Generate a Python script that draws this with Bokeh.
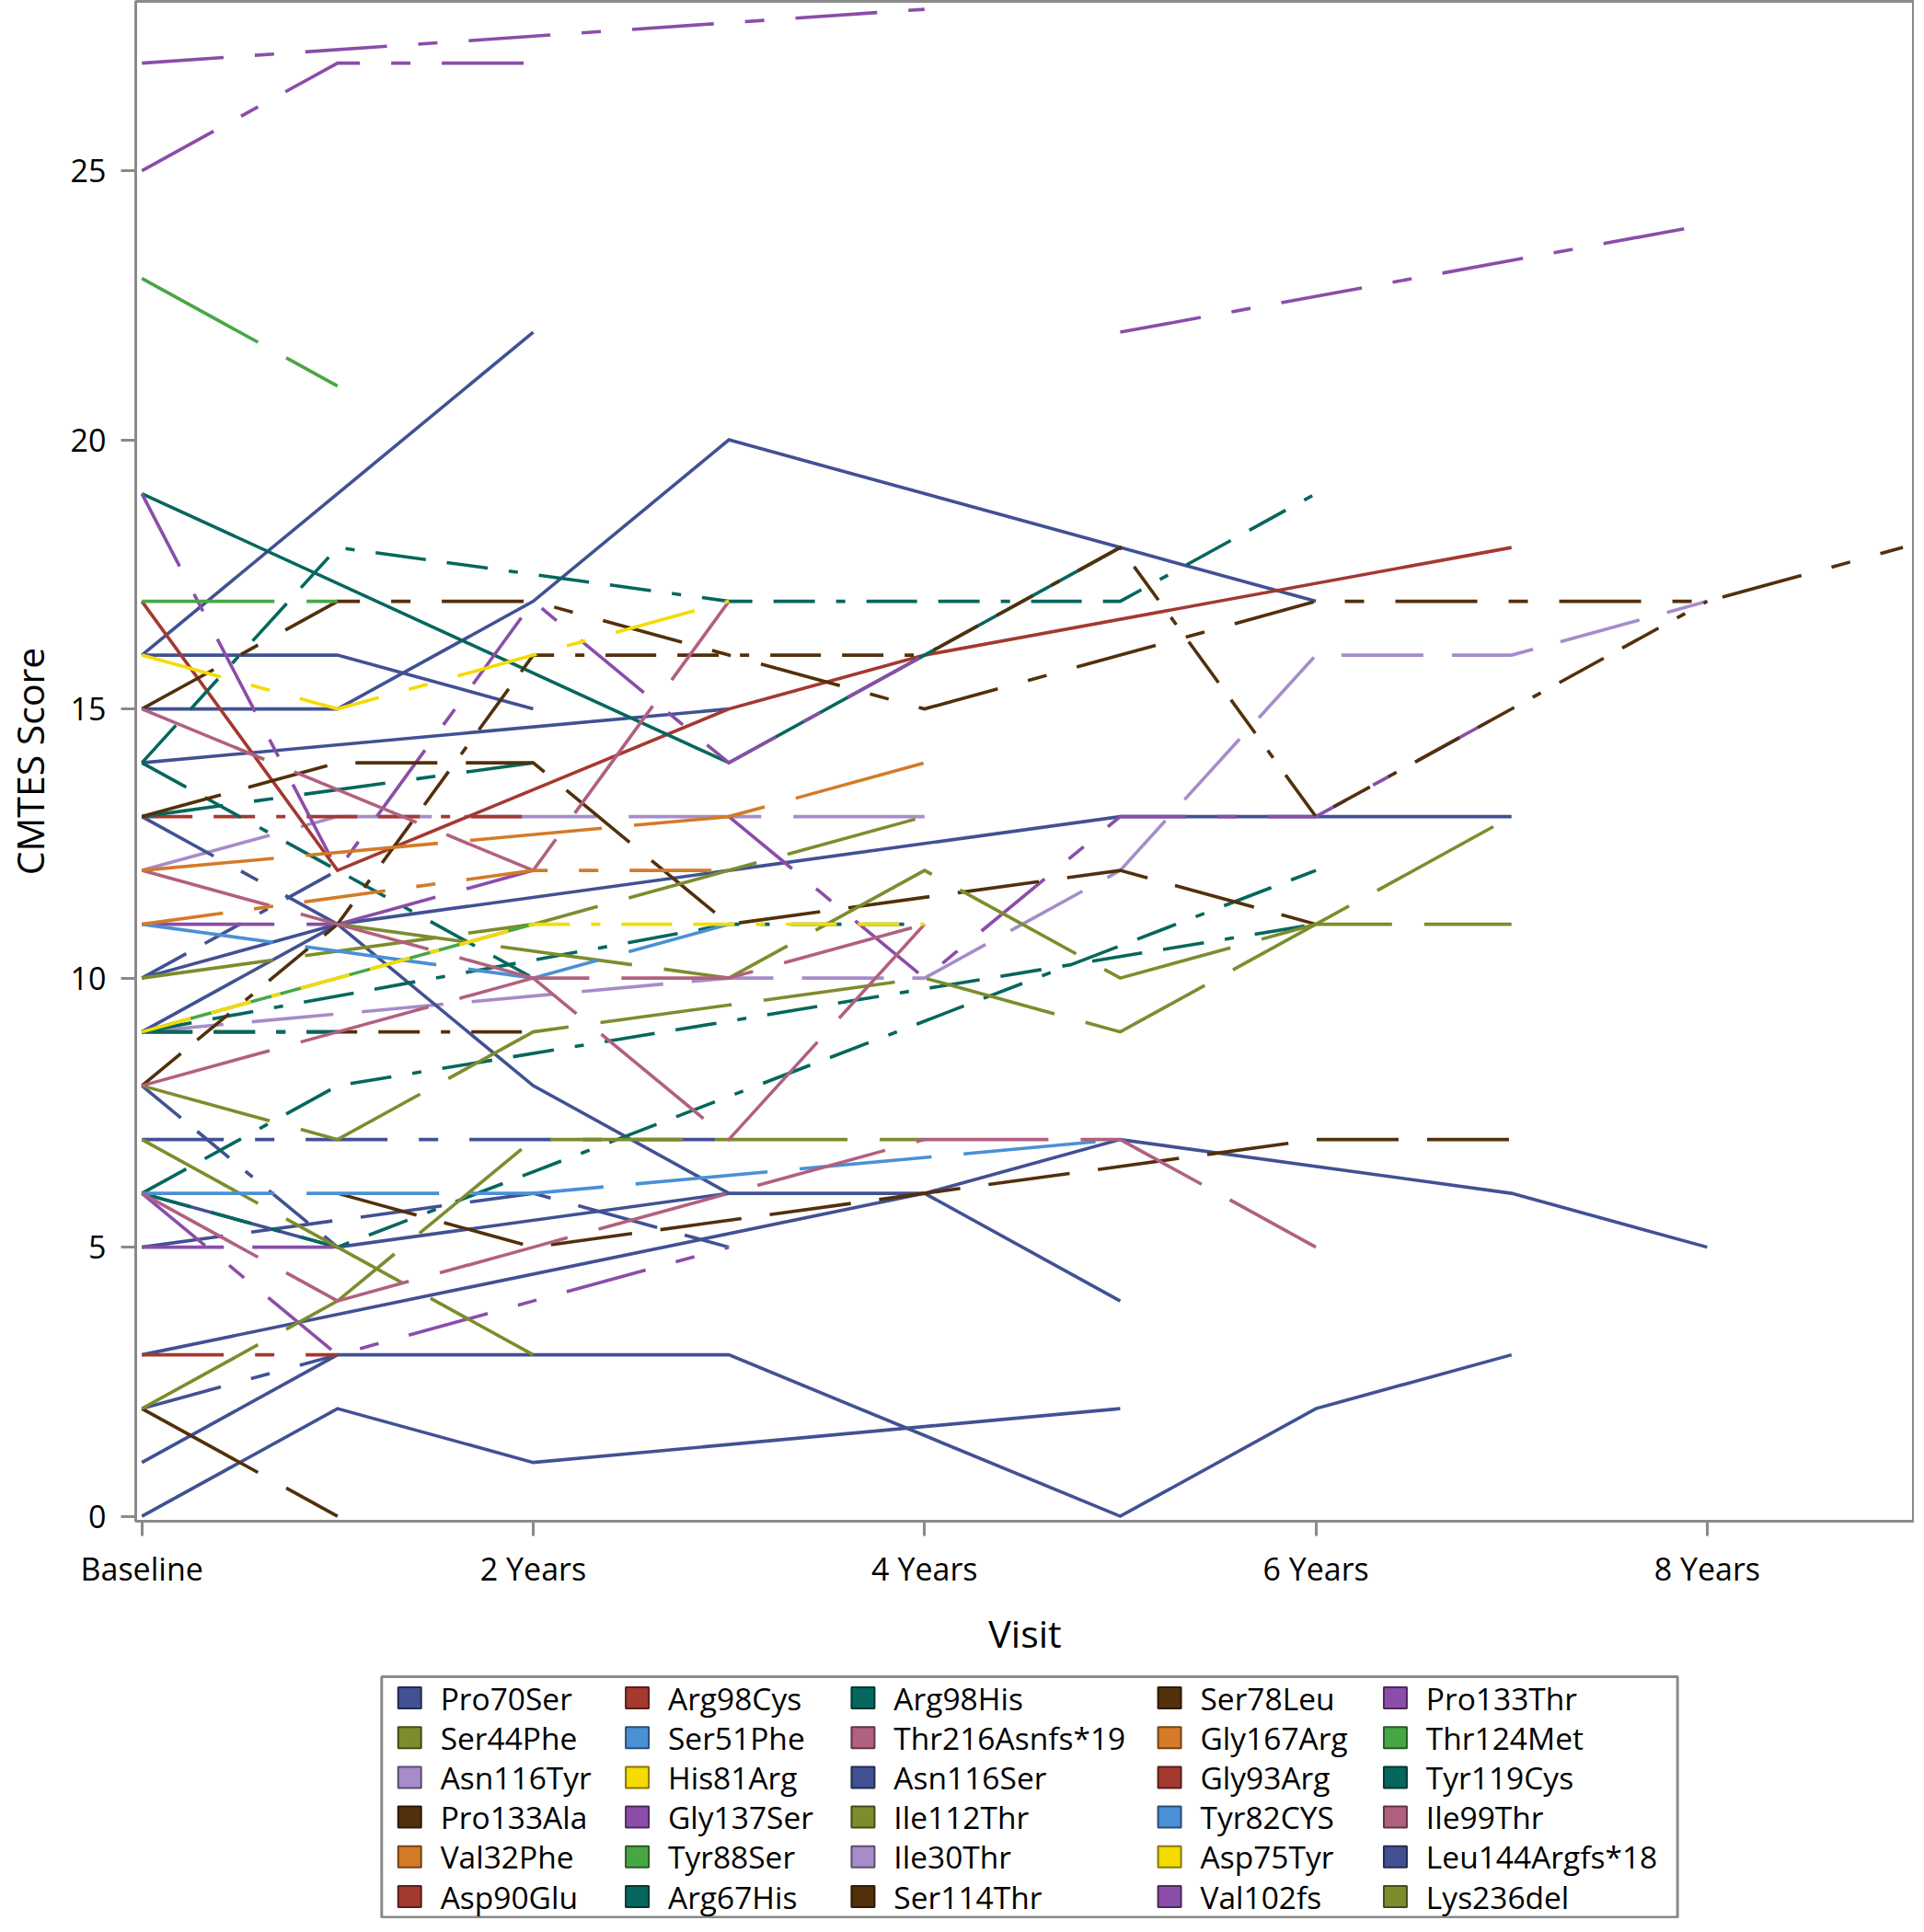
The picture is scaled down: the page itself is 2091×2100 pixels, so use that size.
from bokeh.plotting import figure
from bokeh.models import Range1d, FixedTicker, ColumnDataSource
from bokeh.layouts import column
from bokeh.core.properties import value
from bokeh.embed import file_html
from bokeh.resources import INLINE

N = None

# ---------------- data ----------------
variants = ["Pro70Ser", "Arg98Cys", "Arg98His", "Ser78Leu", "Pro133Thr",
            "Ser44Phe", "Ser51Phe", "Thr216Asnfs*19", "Gly167Arg", "Thr124Met",
            "Asn116Tyr", "His81Arg", "Asn116Ser", "Gly93Arg", "Tyr119Cys",
            "Pro133Ala", "Gly137Ser", "Ile112Thr", "Tyr82CYS", "Ile99Thr",
            "Val32Phe", "Tyr88Ser", "Ile30Thr", "Asp75Tyr", "Leu144Argfs*18",
            "Asp90Glu", "Arg67His", "Ser114Thr", "Val102fs", "Lys236del"]

visit_years = [0, 1, 2, 3, 4, 5, 6, 7, 8, 9]
x_tick_years = [0, 2, 4, 6, 8]
x_tick_labels = ["Baseline", "2 Years", "4 Years", "6 Years", "8 Years"]
y_ticks = [0, 5, 10, 15, 20, 25]

# one entry per patient (in drawing order): variant, line pattern,
# CMTES score per visit year (None = no visit at that year)
pt_variant = [
    # lavender
    "Asn116Tyr", "Ile30Thr",
    # blue
    "Pro70Ser", "Pro70Ser", "Pro70Ser", "Pro70Ser", "Pro70Ser", "Pro70Ser", "Pro70Ser",
    "Asn116Ser", "Pro70Ser", "Leu144Argfs*18", "Leu144Argfs*18", "Pro70Ser", "Pro70Ser",
    "Leu144Argfs*18", "Leu144Argfs*18", "Asn116Ser",
    # red
    "Arg98Cys", "Asp90Glu", "Gly93Arg",
    # teal
    "Arg98His", "Tyr119Cys", "Tyr119Cys", "Arg67His", "Tyr119Cys", "Tyr119Cys", "Tyr119Cys",
    # purple
    "Val102fs", "Val102fs", "Val102fs", "Val102fs", "Gly137Ser", "Val102fs", "Pro133Thr", "Val102fs",
    # brown
    "Ser114Thr", "Ser114Thr", "Pro133Ala", "Ser78Leu", "Ser78Leu", "Pro133Ala",
    # teal (drawn over the brown one at 9)
    "Tyr119Cys",
    # olive
    "Ile112Thr", "Lys236del", "Ser44Phe", "Ile112Thr", "Lys236del",
    # light blue
    "Tyr82CYS", "Ser51Phe",
    # pink
    "Thr216Asnfs*19", "Ile99Thr", "Ile99Thr", "Thr216Asnfs*19",
    # orange
    "Gly167Arg", "Val32Phe",
    # green
    "Thr124Met", "Tyr88Ser", "Thr124Met",
    # yellow
    "His81Arg", "Asp75Tyr",
]

pt_pattern = [
    "LD", "MD",
    "S", "S", "S", "S", "S", "S", "S", "MD", "S", "LS", "DDD", "S", "S", "DDD", "LS", "LS",
    "S", "DDD", "LS",
    "S", "DDD", "DDD", "LS", "DDD", "DDD", "DDD",
    "LS", "LS", "LS", "LS", "LD", "LS", "MD", "LS",
    "DDD", "LS", "MD", "DDD", "LD", "MD",
    "DDD",
    "LD", "LD", "LD", "LD", "LD",
    "LD", "LD",
    "LD", "LD", "LD", "LD",
    "LD", "LS",
    "LD", "LD", "S",
    "LS", "DDD",
]

pt_scores = [
    # lavender
    [12, 13, 13, 13, 13],
    [9, N, N, 10, 10, 12, 16, 16, 17],
    # blue
    [16, N, 22],
    [15, 15, 17, 20, N, 18, 17],
    [16, 16, 15],
    [14, N, N, 15],
    [0, 2, 1, N, N, 2],
    [1, 3, 3, 3, N, 0, 2, 3],
    [3, N, N, N, 6, 7, N, 6, 5],
    [5, N, 6, 5],
    [6, 5, N, 6, 6, 4],
    [7, 7, 7, 7],
    [8, 5],
    [9, 11, 8, 6],
    [10, 11, N, 12, N, 13, 13, 13],
    [10, 12],
    [13, 11],
    [2, 3],
    # red
    [17, 12, N, 15, 16, N, N, 18],
    [13, 13, 13],
    [3, 3],
    # teal
    [19, N, N, 14, 16, 18],
    [14, 18, N, 17, 17, 17, 19],
    [14, 12, 10],
    [13, N, 14],
    [9, N, N, 11, 11],
    [6, 8, N, N, N, N, 11],
    [6, 5, N, N, N, N, 12],
    # purple
    [27, N, N, N, 28],
    [25, 27, 27],
    [N, N, N, N, N, 22, N, N, 24],
    [19, 12, 17, 14, 16],
    [11, 11, 12],
    [6, 3, 4, 5],
    [5, 5],
    [N, N, N, 13, 10, 13, 13, 15],
    # brown
    [8, 11, 16, 16, 16, 18, 13, N, 17],
    [15, 17, 17, 16, 15, 16, 17, 17, 17, 18],
    [13, 14, 14, 11, N, 12, 11],
    [9, 9, 9],
    [2, 0],
    [N, 6, 5, N, 6, N, 7, 7],
    # teal
    [9, 9],
    # olive
    [8, 7, 9, N, 10, 9, 11, 13],
    [10, N, 11, 12, 13],
    [N, 11, N, 10, 12, 10, 11, 11],
    [2, 4, 7, 7, 7],
    [7, 5, 3],
    # light blue
    [6, 6, 6, N, N, 7],
    [11, N, 10, 11],
    # pink
    [15, N, 12, 17],
    [12, 11, 10, 10, 11],
    [8, 9, 10, 7, 11],
    [6, 4, 5, 6, 7, 7, 5],
    # orange
    [12, N, N, 13, 14],
    [11, N, 12, 12],
    # green
    [23, 21],
    [17, 17],
    [9, 10, 11],
    # yellow
    [16, 15, 16, 17],
    [9, 10, 11, 11, 11],
]

# ---------------- styles / layout ----------------
palette = ["#415193", "#A4392F", "#05675D", "#52300B", "#8B4DA9", "#7D8C2D",
           "#4A90D5", "#B1607F", "#D47A28", "#48A745", "#A68CC9", "#F5DB00"]
dash_styles = {"S": "solid", "MD": "89 31", "LD": "144 35",
               "LS": "89 34 21 34", "DDD": "55 23 45 23 10 23"}
FONT = "Open Sans"
GRAY = "#8a8a8a"

FIG_W = 2075
FRAME_W, FRAME_H = 1933, 1652
BORDER_L, BORDER_T, BORDER_B = 142, 1, 151
LEG_H = 2084 - (BORDER_T + FRAME_H + BORDER_B)

# legend geometry (screen px inside the legend strip, measured from the strip's left/top edge)
LEG_COLS = 5
LEG_COL_X = [428, 676, 922, 1256, 1502]      # left edge of each column's swatch
LEG_ROW_Y0, LEG_ROW_DY = 40.0, 43.2           # centre of first row, row pitch
LEG_SW_W, LEG_SW_H, LEG_TEXT_DX = 25, 23, 46
LEG_BOX = (410, 1822, 17, 278.5)              # left, right, top, bottom


def darken(hex_color, f=0.55):
    r, g, b = (int(hex_color[i:i + 2], 16) for i in (1, 3, 5))
    return "#%02x%02x%02x" % (int(r * f), int(g * f), int(b * f))


def variant_color(name):
    return palette[variants.index(name) % len(palette)]


# ---------------- main plot ----------------
p = figure(frame_width=FRAME_W, frame_height=FRAME_H,
           x_range=Range1d(-0.0315, 9.0586), y_range=Range1d(-0.092, 28.147),
           output_backend="svg", toolbar_location=None,
           min_border_left=BORDER_L, min_border_top=BORDER_T,
           min_border_right=0, min_border_bottom=BORDER_B)

p.xgrid.visible = False
p.ygrid.visible = False
p.outline_line_color = GRAY
p.outline_line_width = 3
p.background_fill_color = "white"
p.border_fill_color = "white"

for ax in (p.xaxis[0], p.yaxis[0]):
    ax.axis_line_color = None
    ax.major_tick_line_color = GRAY
    ax.major_tick_line_width = 3
    ax.major_tick_out = 16
    ax.major_tick_in = 0
    ax.minor_tick_line_color = None
    ax.major_label_text_font = FONT
    ax.major_label_text_font_size = "34px"
    ax.major_label_text_color = "black"
    ax.axis_label_text_font = FONT
    ax.axis_label_text_font_size = "41px"
    ax.axis_label_text_font_style = "normal"
    ax.axis_label_text_color = "black"

p.xaxis.ticker = FixedTicker(ticks=x_tick_years)
p.xaxis.major_label_overrides = {t: l for t, l in zip(x_tick_years, x_tick_labels)}
p.xaxis.major_label_standoff = 12
p.xaxis.axis_label = "Visit"
p.xaxis.axis_label_standoff = 16

p.yaxis.ticker = FixedTicker(ticks=y_ticks)
p.yaxis.major_label_standoff = 16
p.yaxis.axis_label = "CMTES Score"
p.yaxis.axis_label_standoff = 14

for name, pat, scores in zip(pt_variant, pt_pattern, pt_scores):
    xs = [visit_years[i] for i, s in enumerate(scores) if s is not None]
    ys = [s for s in scores if s is not None]
    p.line(xs, ys, line_color=variant_color(name), line_width=3.6,
           line_dash=dash_styles[pat], line_cap="butt", line_join="miter")

# ---------------- legend strip (group colours, 5 columns, row-major) ----------------
# the strip's frame is aligned with the main frame by the column layout, so its x range
# is expressed in strip pixels starting at the left border width
lg = figure(width=FIG_W, height=LEG_H, x_range=Range1d(BORDER_L, FIG_W), y_range=Range1d(LEG_H, 0),
            output_backend="svg", toolbar_location=None, x_axis_type=None, y_axis_type=None,
            min_border_left=BORDER_L, min_border_right=0, min_border_top=0, min_border_bottom=0)
lg.grid.visible = False
lg.outline_line_color = None
lg.background_fill_color = "white"
lg.border_fill_color = "white"

bl, br, bt, bb = LEG_BOX
lg.quad(left=[bl], right=[br], top=[bt], bottom=[bb], fill_color="white",
        line_color=GRAY, line_width=3)

sw_x, sw_y, sw_fill, sw_line, tx_x = [], [], [], [], []
for i, name in enumerate(variants):
    r, c = divmod(i, LEG_COLS)
    col = variant_color(name)
    sw_x.append(LEG_COL_X[c] + LEG_SW_W / 2)
    sw_y.append(LEG_ROW_Y0 + r * LEG_ROW_DY)
    sw_fill.append(col)
    sw_line.append(darken(col))
    tx_x.append(LEG_COL_X[c] + LEG_TEXT_DX)

src = ColumnDataSource(dict(x=sw_x, y=sw_y, fill=sw_fill, line=sw_line, tx=tx_x, label=variants))
lg.rect(x="x", y="y", width=LEG_SW_W, height=LEG_SW_H, width_units="screen", height_units="screen",
        fill_color="fill", line_color="line", line_width=2, source=src)
lg.text(x="tx", y="y", text="label", source=src, text_font=value(FONT), text_font_size="33.5px",
        text_baseline="middle", text_align="left", text_color="black")

layout = column(p, lg, spacing=0)
open("out.html", "w").write(file_html(layout, INLINE))
